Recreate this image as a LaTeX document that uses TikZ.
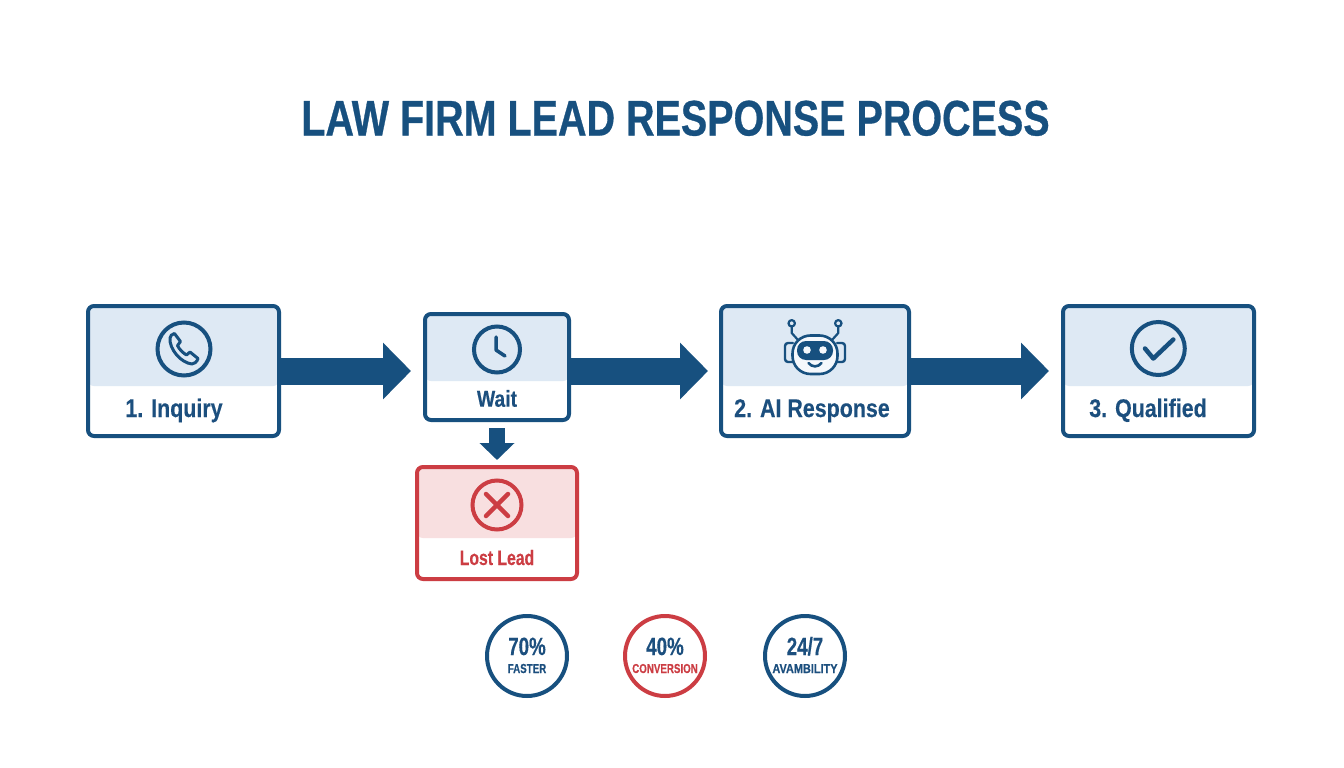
\documentclass[tikz,border=0pt]{standalone}
\usepackage{fontspec}
\setmainfont{Liberation Sans}[FakeStretch=0.84,BoldFeatures={FakeBold=0.3}]
\newfontfamily\titlefont{Liberation Sans}[UprightFont=* Bold,FakeStretch=0.79,FakeBold=0.6]
\newfontfamily\narrowfont{Liberation Sans}[UprightFont=* Bold,FakeStretch=0.75,FakeBold=0.3]
\usetikzlibrary{arrows.meta}
\definecolor{navy}{HTML}{17507F}
\definecolor{inkblue}{HTML}{1C4F7E}
\definecolor{bandblue}{HTML}{DEE9F4}
\definecolor{alert}{HTML}{CC3D43}
\definecolor{bandred}{HTML}{F8DFE0}
\tikzset{
  x=1pt,y=-1pt,
  card/.style n args={3}{draw=#1,line width=4pt,rounded corners=6pt,inner sep=0pt,
    path picture={\fill[#2] (path picture bounding box.north west) rectangle ([yshift=-#3pt]path picture bounding box.north east);}},
  bluecard/.style={card={navy}{bandblue}{#1}},
  redcard/.style={card={alert}{bandred}{#1}},
  bigarrow/.style={draw=navy,line width=27pt,-{Triangle[length=28pt,width=55pt]}},
  downarrow/.style={draw=navy,line width=16pt,-{Triangle[length=17pt,width=34pt]}},
  lbl/.style={anchor=base,inner sep=0pt,text=inkblue,font=\bfseries\fontsize{#1}{#1}\selectfont},
  nlbl/.style={anchor=base,inner sep=0pt,text=inkblue,font=\narrowfont\fontsize{#1}{#1}\selectfont},
  ring/.style={circle,draw=#1,inner sep=0pt},
  stat/.style={ring=#1,line width=4pt,minimum size=80pt},
  icon/.style={draw=navy,line width=3pt,line cap=round,line join=round},
}
\begin{document}
\begin{tikzpicture}
\useasboundingbox (0,0) rectangle (1344,768);
\fill[white] (0,0) rectangle (1344,768);
\node[anchor=base,inner sep=0pt,text=navy,font=\titlefont\fontsize{50}{50}\selectfont] (title) at (675.5,135.5) {LAW FIRM LEAD RESPONSE PROCESS};
% cards
\node[bluecard=80,minimum width=191pt,minimum height=130pt] (inq) at (183.5,371) {};
\node[bluecard=67,minimum width=144pt,minimum height=106pt] (wait) at (497,367) {};
\node[bluecard=80,minimum width=188pt,minimum height=130pt] (ai) at (815,371) {};
\node[bluecard=80,minimum width=191pt,minimum height=130pt] (qual) at (1158.5,371) {};
\node[redcard=71,minimum width=160pt,minimum height=112pt] (lost) at (497,523) {};
% connectors
\coordinate (w1) at (wait.west |- inq.east);
\coordinate (w2) at (wait.east |- inq.east);
\draw[bigarrow,shorten >=12pt] (inq.east) -- (w1);
\draw[bigarrow,shorten >=11pt] (w2) -- (ai.west);
\draw[bigarrow,shorten >=12pt] (ai.east) -- (qual.west);
\draw[downarrow,shorten <=6pt,shorten >=5pt] (wait.south) -- (lost.north);
% labels
\node[lbl=25.5] (linq) at (174,417) {1. Inquiry};
\node[lbl=23] (lwait) at (497,406.7) {Wait};
\node[lbl=25.5] (lai) at (812,417) {2. AI Response};
\node[lbl=25.5] (lqual) at (1148,417) {3. Qualified};
\node[nlbl=21,text=alert] (llost) at (497,565) {Lost Lead};
% phone
\node[ring=navy,line width=4pt,minimum size=53pt] (iphone) at (184,349) {};
\begin{scope}[shift={(iphone.center)}]
\draw[icon,line width=3pt] (-9.5,-15.5) -- (-3.5,-7.5) -- (-6.5,-3.5) .. controls (-5,0) and (-1,4) .. (2.5,6) -- (6,3) -- (14,9.5) .. controls (13,13) and (10,15) .. (8,15) .. controls (-3,14) and (-15,0) .. (-14,-11) .. controls (-14,-13) and (-12,-15) .. (-9.5,-15.5) -- cycle;
\end{scope}
% clock
\node[ring=navy,line width=4pt,minimum size=46pt] (iclock) at (497,349.5) {};
\draw[icon,line width=3.5pt] ([shift={(-1,-12.5)}]iclock.center) -- ([shift={(-1,0.5)}]iclock.center) -- ([shift={(8,6.5)}]iclock.center);
% cross
\node[ring=alert,line width=4pt,minimum size=49pt] (icross) at (497,505) {};
\draw[icon,draw=alert,line width=4.5pt] ([shift={(-11,-11)}]icross.center) -- ([shift={(11,11)}]icross.center);
\draw[icon,draw=alert,line width=4.5pt] ([shift={(-11,11)}]icross.center) -- ([shift={(11,-11)}]icross.center);
% check
\node[ring=navy,line width=4pt,minimum size=53pt] (icheck) at (1158.3,348.5) {};
\draw[icon,line width=4.5pt] ([shift={(-13.3,0)}]icheck.center) -- ([shift={(-5,10)}]icheck.center) -- ([shift={(15,-9)}]icheck.center);
% robot
\coordinate (bot) at (815,350);
\begin{scope}[shift={(bot)}]
\draw[icon,line width=2.2pt] (-23.3,-23.5) -- (-23.3,-17) -- (-17,-10);
\draw[icon,line width=2.2pt] (23.3,-23.5) -- (23.3,-17) -- (17,-10);
\draw[icon,line width=2.2pt] (-23.3,-26.7) circle (3.2);
\draw[icon,line width=2.2pt] (23.3,-26.7) circle (3.2);
\draw[icon,line width=2.4pt,rounded corners=3pt] (-22,-7) -- (-30,-7) -- (-30,12) -- (-22,12);
\draw[icon,line width=2.4pt,rounded corners=3pt] (22,-7) -- (30,-7) -- (30,12) -- (22,12);
\draw[icon,line width=2.6pt,fill=bandblue!30!white,rounded corners=18pt] (-22.5,-14.5) rectangle (22.5,24);
\fill[navy,rounded corners=9pt] (-18,-9) rectangle (18,10);
\fill[bandblue!30!white] (-8,0) circle (3.8) (8,0) circle (3.8);
\draw[icon,line width=2.6pt] (-6.5,13) .. controls (-3,17.5) and (3,17.5) .. (6.5,13);
\end{scope}
% stats
\node[stat=navy] (s1) at (527,656) {};
\node[stat=alert] (s2) at (665,656) {};
\node[stat=navy] (s3) at (805,656) {};
\node[nlbl=25] (v1) at (527,655) {70\%};
\node[nlbl=25] (v2) at (665,655) {40\%};
\node[nlbl=25] (v3) at (805,655) {24/7};
\node[nlbl=13] (c1) at (527,673) {FASTER};
\node[nlbl=13,text=alert] (c2) at (665,673) {CONVERSION};
\node[lbl=13] (c3) at (805,673) {AVAMBILITY};
\end{tikzpicture}
\end{document}
